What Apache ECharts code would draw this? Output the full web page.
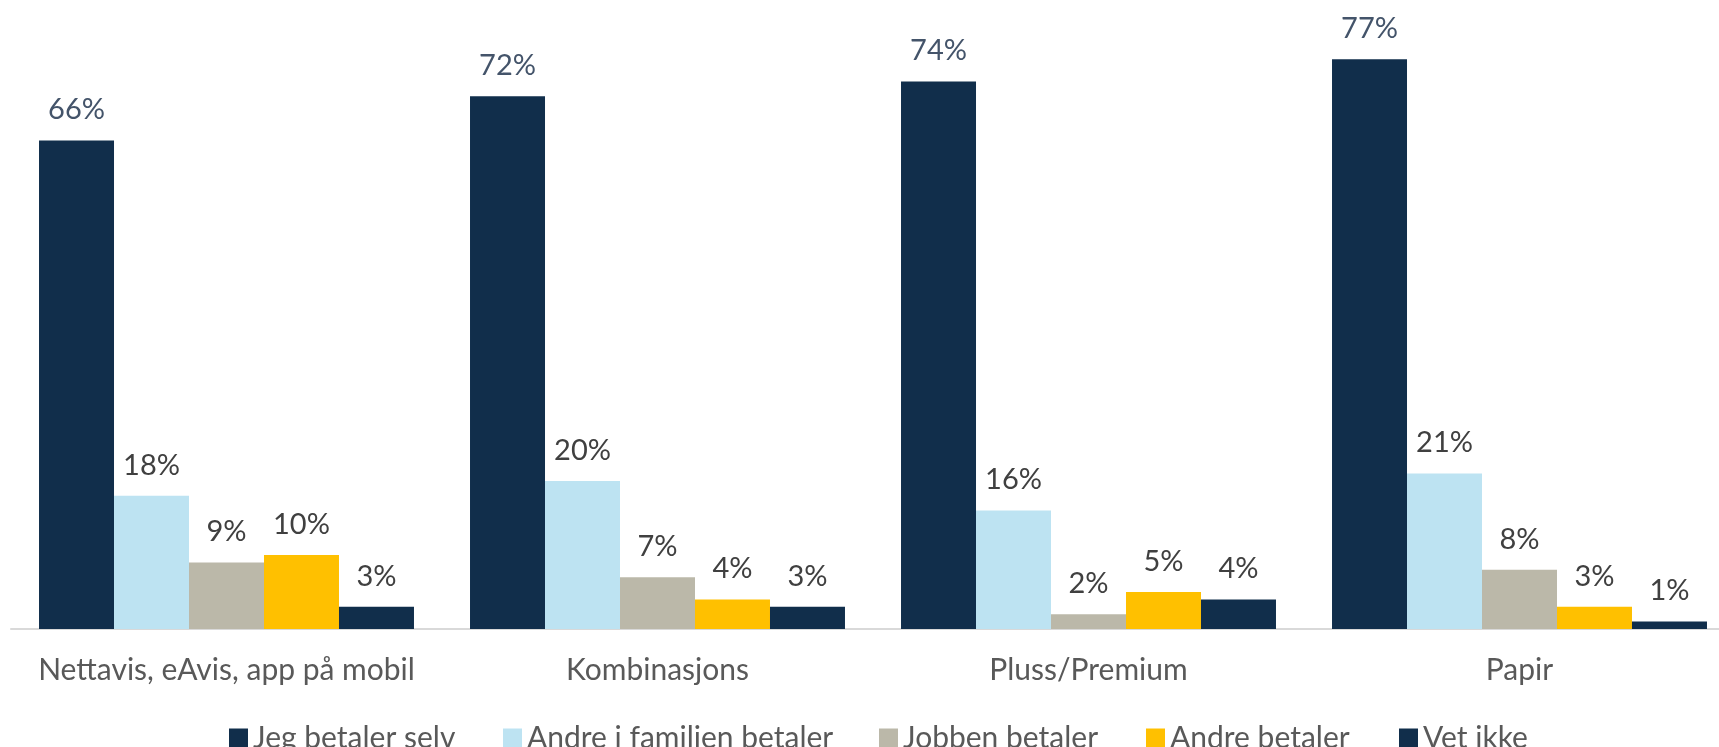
<!DOCTYPE html>
<html>
<head>
<meta charset="utf-8">
<title>Hvem betaler abonnementet</title>
<script src="https://cdn.jsdelivr.net/npm/echarts@6/dist/echarts.min.js"></script>
<style>
  html, body { margin: 0; padding: 0; background: #ffffff; overflow: hidden; }
  /* the plot runs a little past the right edge of the window */
  #chart { width: 1735px; height: 747px; }
</style>
</head>
<body>
<div id="chart"></div>
<script>
// Subscription types along the x axis
const categories = ['Nettavis, eAvis, app på mobil', 'Kombinasjons', 'Pluss/Premium', 'Papir'];

// Who pays, percent of respondents per subscription type
const seriesNames = ['Jeg betaler selv', 'Andre i familien betaler', 'Jobben betaler', 'Andre betaler', 'Vet ikke'];
const jegBetalerSelv = [66, 72, 74, 77];
const andreIFamilien = [18, 20, 16, 21];
const jobbenBetaler = [9, 7, 2, 8];
const andreBetaler = [10, 4, 5, 3];
const vetIkke = [3, 3, 4, 1];

const seriesData = [jegBetalerSelv, andreIFamilien, jobbenBetaler, andreBetaler, vetIkke];
const colors = ['#112e4b', '#bde3f2', '#bbb8a9', '#ffc000', '#112e4b'];
const labelColors = ['#44546a', '#404040', '#404040', '#404040', '#404040'];

// fixed slot widths for the legend texts, so the entries sit evenly
const legendTextWidths = [250, 352, 243, 229, 150];

const FONT = 'Lato, "Open Sans", sans-serif';

const chart = echarts.init(document.getElementById('chart'), null, { renderer: 'canvas' });

chart.setOption({
  animation: false,
  backgroundColor: '#ffffff',
  grid: { left: 11, right: 0, top: 0, bottom: 118, containLabel: false },
  legend: {
    data: seriesNames.map((name, i) => ({ name: name, textStyle: { width: legendTextWidths[i] } })),
    left: 224,
    top: 718,
    icon: 'rect',
    itemWidth: 19,
    itemHeight: 19,
    itemGap: 0,
    textStyle: { color: '#595959', fontSize: 30, fontFamily: FONT, lineHeight: 30, padding: [0, 0, 0, 0] }
  },
  xAxis: {
    type: 'category',
    data: categories,
    axisLine: { show: true, lineStyle: { color: '#d9d9d9', width: 2 } },
    axisTick: { show: false },
    axisLabel: { interval: 0, color: '#595959', fontSize: 30, fontFamily: FONT, margin: 26, lineHeight: 30 }
  },
  yAxis: {
    type: 'value',
    min: 0,
    max: 85,
    show: false,
    splitLine: { show: false }
  },
  series: seriesNames.map((name, i) => ({
    name: name,
    type: 'bar',
    data: seriesData[i],
    barGap: 0,
    barCategoryGap: '13%',
    itemStyle: { color: colors[i] },
    label: {
      show: true,
      position: 'top',
      distance: 16,
      formatter: '{c}%',
      color: labelColors[i],
      fontSize: 29,
      fontFamily: FONT,
      lineHeight: 29
    }
  }))
});
</script>
</body>
</html>
